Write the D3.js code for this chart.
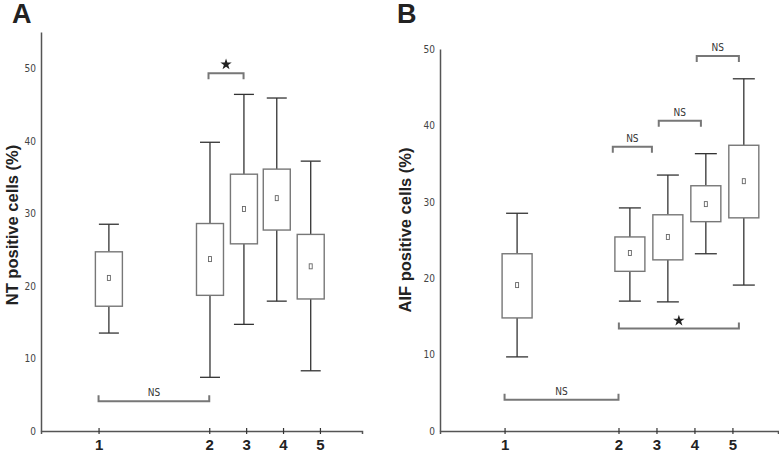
<!DOCTYPE html>
<html>
<head>
<meta charset="utf-8">
<script src="https://cdn.jsdelivr.net/npm/d3@7"></script>
<style>
	body { margin: 0; background: #fff; }
	svg { display: block; }
	.tick-y text { font-family: 'Liberation Sans Narrow', 'DejaVu Sans Condensed', sans-serif; font-size: 10px; fill: #444; }
	.tick-x text { font-family: 'Liberation Sans', Arial, sans-serif; font-weight: bold; font-size: 15px; fill: #222; }
	.ytitle { font-family: 'Liberation Sans', Arial, sans-serif; font-weight: bold; font-size: 16.5px; fill: #222; }
	.panel { font-family: 'Liberation Sans', Arial, sans-serif; font-weight: bold; font-size: 27px; fill: #222; }
	.ns { font-family: 'Liberation Sans Narrow', 'DejaVu Sans Condensed', sans-serif; font-size: 10px; fill: #333; }
</style>
</head>
<body>
<svg id="chart" width="779" height="455"></svg>
<script>
'use strict'

// group labels and where their ticks sit on the x axis
const groups = ['1', '2', '3', '4', '5']
const tickPos = [0, 3, 4, 5, 6]

// box centres (slightly off the ticks in the original)
const boxPosA = [0.28, 3.02, 3.94, 4.83, 5.75]
const boxPosB = [0.33, 3.3, 4.3, 5.3, 6.3]

// panel A - NT positive cells (%)
const ntLow = [13.5, 7.4, 14.7, 17.9, 8.3]
const ntQ1 = [17.2, 18.7, 25.8, 27.7, 18.2]
const ntMean = [21.1, 23.7, 30.6, 32.1, 22.7]
const ntQ3 = [24.7, 28.6, 35.4, 36.1, 27.1]
const ntHigh = [28.5, 39.8, 46.4, 45.9, 37.2]

// panel B - AIF positive cells (%)
const aifLow = [9.7, 17.0, 16.9, 23.2, 19.1]
const aifQ1 = [14.8, 20.9, 22.4, 27.4, 27.9]
const aifMean = [19.1, 23.3, 25.4, 29.7, 32.7]
const aifQ3 = [23.2, 25.4, 28.3, 32.1, 37.4]
const aifHigh = [28.5, 29.2, 33.5, 36.3, 46.1]

const yTicksA = [0, 10, 20, 30, 40, 50]
const yTicksB = [0, 10, 20, 30, 40, 50]

// significance brackets: from/to in x units, y in data units
const bracketsA = [
	{from: 0, to: 3, y: 4.1, label: 'NS', below: true},
	{from: 2.98, to: 3.93, y: 49.3, label: '*', below: false}
]
const bracketsB = [
	{from: 0, to: 3, y: 4.1, label: 'NS', below: true},
	{from: 3.01, to: 6.17, y: 13.4, label: '*', below: true},
	{from: 2.85, to: 3.88, y: 37.2, label: 'NS', below: false},
	{from: 4.06, to: 5.17, y: 40.6, label: 'NS', below: false},
	{from: 5.06, to: 6.17, y: 49.1, label: 'NS', below: false}
]

const svg = d3.select('#chart')

function makeRows(pos, low, q1, mean, q3, high) {
	return groups.map((g, i) => ({
		g, pos: pos[i], low: low[i], q1: q1[i], mean: mean[i], q3: q3[i], high: high[i]
	}))
}

function drawPanel(cfg) {
	const x = d3.scaleLinear().domain(cfg.xDomain).range([cfg.left, cfg.right])
	const y = d3.scaleLinear().domain(cfg.yDomain).range([cfg.bottom, cfg.top])
	const g = svg.append('g')

	// y axis
	const yAxis = g.append('g')
		.attr('class', 'tick-y')
		.attr('transform', `translate(${cfg.left},0)`)
		.call(d3.axisLeft(y).tickValues(cfg.yTicks).tickSize(0).tickPadding(5))
	yAxis.select('.domain').attr('stroke', '#555').attr('stroke-width', 1.5)

	// x axis
	const xAxis = g.append('g')
		.attr('class', 'tick-x')
		.attr('transform', `translate(0,${cfg.bottom})`)
		.call(d3.axisBottom(x).tickValues(tickPos).tickFormat((d, i) => groups[i]).tickSize(3).tickPadding(5))
	xAxis.select('.domain').attr('stroke', '#555').attr('stroke-width', 1.5)
	xAxis.selectAll('.tick line').attr('y1', -3).attr('stroke', '#333').attr('stroke-width', 1.2)
	xAxis.selectAll('.tick text').attr('dy', '0.72em')

	// titles
	g.append('text')
		.attr('class', 'ytitle')
		.attr('transform', `translate(${cfg.titleX},${cfg.titleY}) rotate(-90)`)
		.attr('text-anchor', 'middle')
		.text(cfg.title)
	g.append('text')
		.attr('class', 'panel')
		.attr('x', cfg.letterX)
		.attr('y', 23)
		.text(cfg.letter)

	// boxes
	const boxes = g.selectAll('.box').data(cfg.rows).enter().append('g').attr('class', 'box')
	boxes.append('line')
		.attr('x1', d => x(d.pos)).attr('x2', d => x(d.pos))
		.attr('y1', d => y(d.high)).attr('y2', d => y(d.q3))
		.attr('stroke', '#333').attr('stroke-width', 1.3)
	boxes.append('line')
		.attr('x1', d => x(d.pos)).attr('x2', d => x(d.pos))
		.attr('y1', d => y(d.q1)).attr('y2', d => y(d.low))
		.attr('stroke', '#333').attr('stroke-width', 1.3)
	boxes.append('line')
		.attr('x1', d => x(d.pos) - cfg.capW / 2).attr('x2', d => x(d.pos) + cfg.capW / 2)
		.attr('y1', d => y(d.high)).attr('y2', d => y(d.high))
		.attr('stroke', '#333').attr('stroke-width', 1.3)
	boxes.append('line')
		.attr('x1', d => x(d.pos) - cfg.capW / 2).attr('x2', d => x(d.pos) + cfg.capW / 2)
		.attr('y1', d => y(d.low)).attr('y2', d => y(d.low))
		.attr('stroke', '#333').attr('stroke-width', 1.3)
	boxes.append('rect')
		.attr('x', d => x(d.pos) - cfg.boxW / 2)
		.attr('width', cfg.boxW)
		.attr('y', d => y(d.q3))
		.attr('height', d => y(d.q1) - y(d.q3))
		.attr('fill', '#fff').attr('stroke', '#777').attr('stroke-width', 1.4)
	boxes.append('rect')
		.attr('x', d => x(d.pos) - 1.5)
		.attr('y', d => y(d.mean) - 2.5)
		.attr('width', 3).attr('height', 5)
		.attr('fill', '#fff').attr('stroke', '#666').attr('stroke-width', 0.9)

	// brackets
	const br = g.selectAll('.bracket').data(cfg.brackets).enter().append('g').attr('class', 'bracket')
	br.append('path')
		.attr('d', d => {
			const yy = y(d.y)
			const t = d.below ? -6 : 6
			return `M${x(d.from)},${yy + t}V${yy}H${x(d.to)}V${yy + t}`
		})
		.attr('fill', 'none').attr('stroke', '#777').attr('stroke-width', 2)
	br.filter(d => d.label === 'NS').append('text')
		.attr('class', 'ns')
		.attr('x', d => (x(d.from) + x(d.to)) / 2)
		.attr('y', d => y(d.y) - 5)
		.attr('text-anchor', 'middle')
		.text(d => d.label)
	br.filter(d => d.label === '*').append('path')
		.attr('transform', d => `translate(${(x(d.from) + x(d.to)) / 2},${y(d.y) - (d.below ? 8 : 9)})`)
		.attr('d', d3.symbol(d3.symbolStar, 40))
		.attr('fill', '#222')
}

drawPanel({
	letter: 'A', letterX: 12, title: 'NT positive cells (%)', titleX: 18, titleY: 225,
	left: 41, right: 362, top: 32, bottom: 431,
	xDomain: [-1.56, 7.14], yDomain: [0, 55], yTicks: yTicksA,
	boxW: 27, capW: 20,
	rows: makeRows(boxPosA, ntLow, ntQ1, ntMean, ntQ3, ntHigh),
	brackets: bracketsA
})

drawPanel({
	letter: 'B', letterX: 397, title: 'AIF positive cells (%)', titleX: 411, titleY: 230,
	left: 440, right: 778, top: 49, bottom: 431,
	xDomain: [-1.7, 7.2], yDomain: [0, 50], yTicks: yTicksB,
	boxW: 30, capW: 22,
	rows: makeRows(boxPosB, aifLow, aifQ1, aifMean, aifQ3, aifHigh),
	brackets: bracketsB
})
</script>
</body>
</html>
